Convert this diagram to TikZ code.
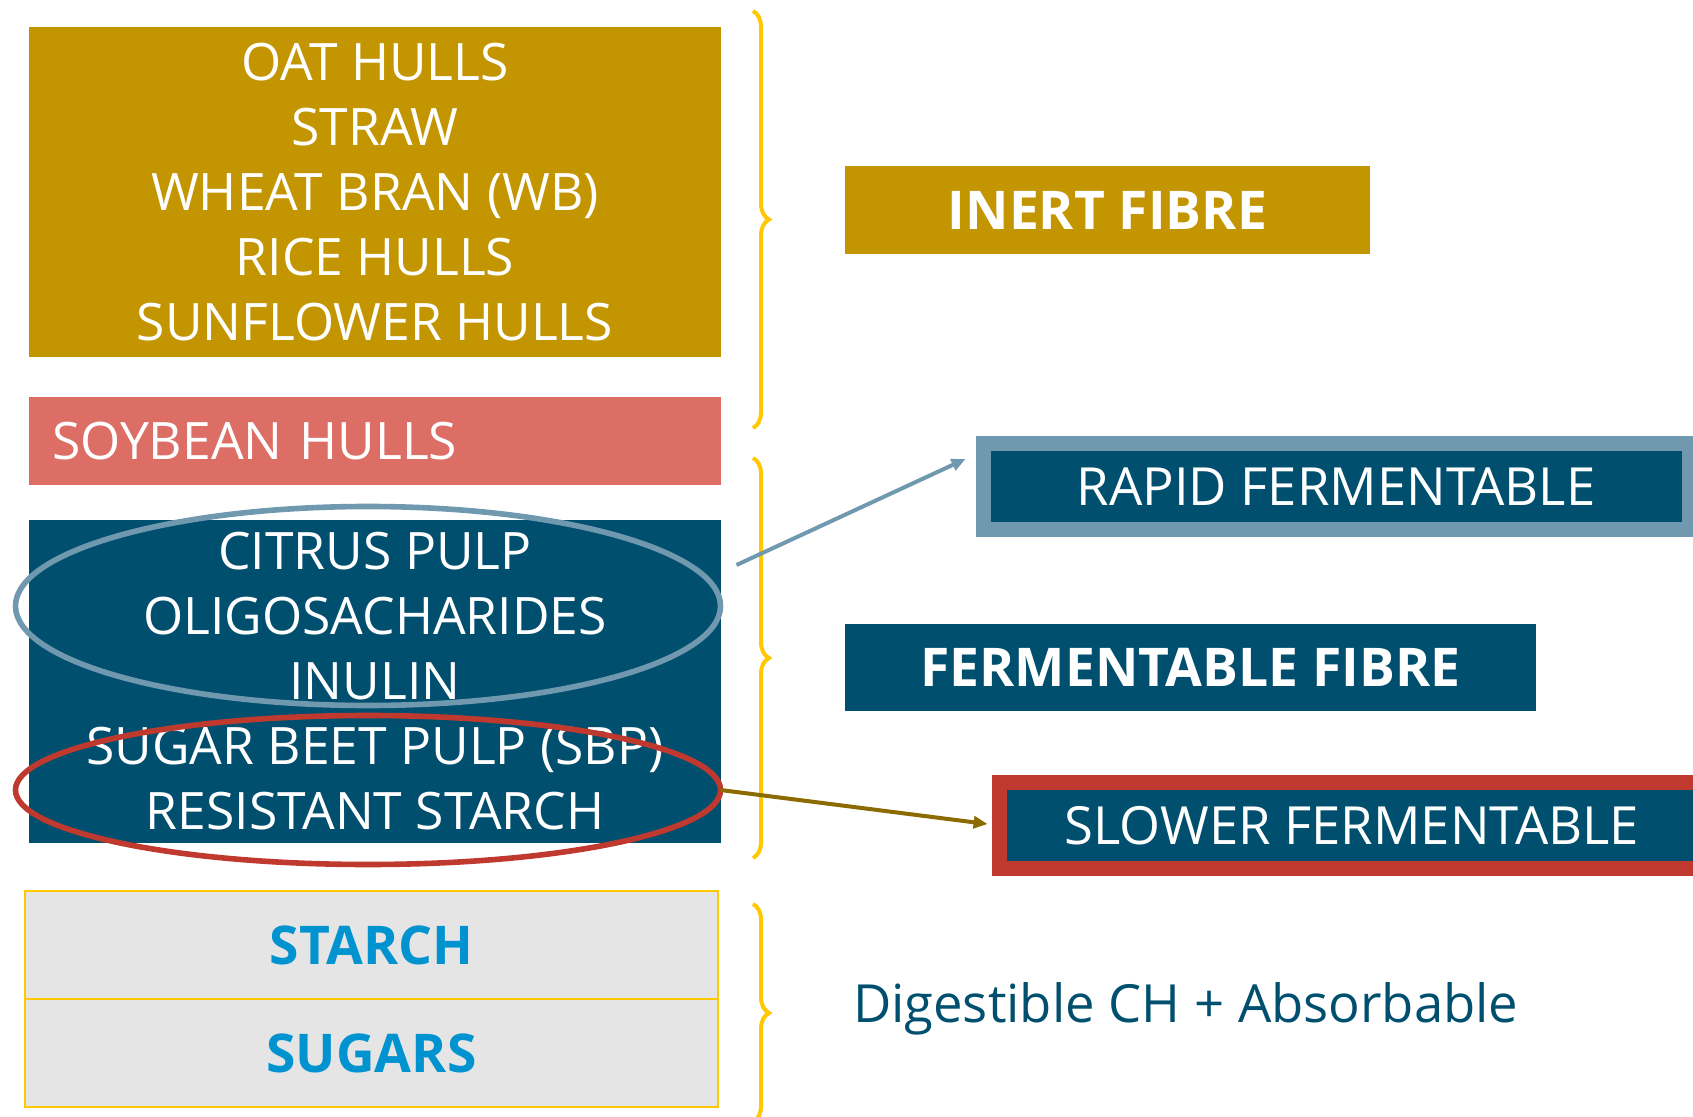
\documentclass[tikz,border=0pt]{standalone}
\usepackage{fontspec}
\setmainfont{Open Sans}
\usepackage{xcolor}
\usepackage{tikz}
\usetikzlibrary{arrows.meta,positioning,shapes.geometric,decorations.pathreplacing,calc}
\definecolor{gold}{RGB}{195,149,0}
\definecolor{salmon}{RGB}{220,110,102}
\definecolor{petrol}{RGB}{0,79,110}
\definecolor{steel}{RGB}{112,153,176}
\definecolor{brick}{RGB}{192,57,47}
\definecolor{amber}{RGB}{255,200,0}
\definecolor{paper}{RGB}{229,229,229}
\definecolor{sky}{RGB}{0,147,208}
\definecolor{olive}{RGB}{139,106,0}

\begin{document}
\begin{tikzpicture}[x=0.5pt, y=-0.5pt,
  every node/.style={font=\fontsize{26.3}{32.5}\selectfont, inner sep=0pt, outer sep=0pt},
  heavy/.style={font=\fontsize{26.7}{32.5}\selectfont\bfseries},
  block/.style={fill=#1, text=white, minimum width=346pt, align=center, font=\fontsize{25.8}{32.5}\selectfont},
  tag/.style={fill=#1, text=white, heavy, minimum height=44pt, align=center},
  framed/.style={fill=petrol, draw=#1, line width=7.5pt, text=white, minimum width=353pt, minimum height=43pt},
  carb/.style={fill=paper, draw=amber, line width=1pt, text=sky, heavy, minimum width=346.5pt, minimum height=54pt},
  ring/.style={ellipse, draw=#1, line width=2.8pt, minimum width=352.5pt},
  fbrace/.style={draw=amber, line width=2pt, decorate, decoration={brace, amplitude=8pt}},
  link/.style={line width=2pt, -{Triangle[length=7pt,width=6pt]}},
  node distance=20pt
]
\useasboundingbox (0,0) rectangle (1693,1117);
\clip (0,0) rectangle (1693,1117);

% left column
\node[block=gold, minimum height=165pt] (hulls) at (375,192) {OAT HULLS\\STRAW\\WHEAT BRAN (WB)\\RICE HULLS\\SUNFLOWER HULLS};
\node[block=salmon, minimum height=44pt, below=20pt of hulls, text width=323pt, inner xsep=11.5pt, align=left] (soy) {SOYBEAN HULLS};
\node[block=petrol, minimum height=161.5pt, below=17.5pt of soy] (pulp) {CITRUS PULP\\OLIGOSACHARIDES\\INULIN\\SUGAR BEET PULP (SBP)\\RESISTANT STARCH};
\node[carb, below=24pt of pulp, xshift=-1.75pt] (starch) {STARCH};
\node[carb, below=0pt of starch] (sugars) {SUGARS};

% rings over the fermentable list
\node[ring=steel, minimum height=99.5pt] (rapidring) at (368,606) {};
\node[ring=brick, minimum height=74.5pt] (slowring) at (368,790) {};

% right column
\node[tag=gold, minimum width=262.5pt] (inert) at (1107.5,210) {INERT FIBRE};
\node[framed=steel] (rapid) at (1336,486.5) {RAPID FERMENTABLE};
\node[tag=petrol, minimum width=345.5pt, minimum height=43.5pt] (fermfib) at (1190.5,667.5) {FERMENTABLE FIBRE};
\node[framed=brick] (slower) at (1352,825.5) {SLOWER FERMENTABLE};
\node[text=petrol, anchor=west] (digest) at (853,1009) {Digestible CH + Absorbable};

\foreach \a/\b in {11/428, 458/858, 904/1122}
  \draw[fbrace] (753,\a) -- (753,\b);

\draw[link, steel] ($(rapidring.east)+(16,-41)$) -- ($(rapid.west)+(-17.5,-27.5)$);
\draw[link, olive, shorten >=5.75pt] (slowring.east) -- (slower.west);
\end{tikzpicture}
\end{document}
